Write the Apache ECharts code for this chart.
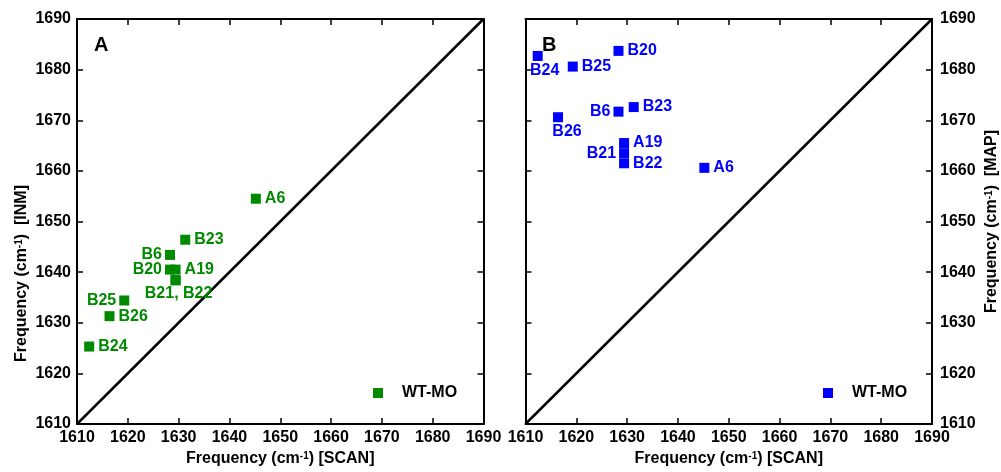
<!DOCTYPE html>
<html>
<head>
<meta charset="utf-8">
<script src="https://cdn.jsdelivr.net/npm/echarts@6/dist/echarts.min.js"></script>
<style>
html,body{margin:0;padding:0;background:#fff;}
#c{width:1001px;height:472px;}
</style>
</head>
<body>
<div id="c"></div>
<script>
// ---- data ----
const names = ['B24','B25','B26','B20','B6','A19','B21','B22','B23','A6'];
const scanFreq = [1612.4,1619.3,1616.4,1628.3,1628.3,1629.4,1629.4,1629.4,1631.3,1645.2];
const inmFreq  = [1625.3,1634.4,1631.3,1640.5,1643.4,1640.5,1638.4,1638.4,1646.4,1654.5];
const mapFreq  = [1682.7,1680.6,1670.6,1683.7,1671.7,1665.5,1663.5,1661.5,1672.6,1660.6];
const diagLine = [[1610,1610],[1690,1690]];
const axisMin = 1610, axisMax = 1690, axisStep = 10;
const legendName = 'WT-MO';

// ---- styles ----
const FONT = "'Liberation Sans', Arial, sans-serif";
const GREEN = '#008a00';
const BLUE = '#0000ff';
const FS = 16;

const labelA = {
  B24:{position:'right'}, B25:{position:'left'}, B26:{position:'right'},
  B20:{position:'left'}, B6:{position:'left'}, A19:{position:'right'},
  B21:{position:'bottom', text:'B21, B22', offset:[3,0], distance:0},
  B22:{show:false}, B23:{position:'right'}, A6:{position:'right'}
};
const labelB = {
  B24:{position:'bottom', offset:[7,0], distance:2}, B25:{position:'right'},
  B26:{position:'bottom', offset:[9,0], distance:1}, B20:{position:'right'},
  B6:{position:'left'}, A19:{position:'right'}, B21:{position:'left'},
  B22:{position:'right'}, B23:{position:'right'}, A6:{position:'right'}
};

function buildData(ys, labels){
  return names.map((n,i)=>{
    const l = labels[n] || {};
    const lab = {
      show: l.show !== false,
      position: l.position || 'right',
      distance: l.distance != null ? l.distance : (l.position === 'left' ? 3 : 4),
      formatter: l.text || n
    };
    if (l.offset) lab.offset = l.offset;
    return {name:n, value:[scanFreq[i], ys[i]], label: lab};
  });
}

const nameRich = {
  sup:{fontSize:10, fontWeight:'bold', fontFamily:FONT, color:'#000', verticalAlign:'top', lineHeight:10}
};
function nameStyle(pad){
  return {fontSize:FS, fontWeight:'bold', fontFamily:FONT, color:'#000', rich:nameRich, padding:pad||0};
}
const lineStyle = {color:'#000', width:2};
const tickStyle = {inside:true, length:6, lineStyle:{color:'#000', width:1.5}};
const labStyle = {fontSize:FS, fontWeight:'bold', fontFamily:FONT, color:'#000', formatter:v=>String(v)};

function xAx(grid, pos, showLabel, name){
  return {
    type:'value', gridIndex:grid, position:pos, min:axisMin, max:axisMax, interval:axisStep,
    axisLine:{show:true, onZero:false, lineStyle:lineStyle},
    axisTick:tickStyle, splitLine:{show:false},
    axisLabel:Object.assign({show:showLabel, margin:6}, labStyle),
    name: name || '', nameLocation:'middle', nameGap:27, nameTextStyle:nameStyle()
  };
}
function yAx(grid, pos, showLabel, name, gap, pad){
  return {
    type:'value', gridIndex:grid, position:pos, min:axisMin, max:axisMax, interval:axisStep,
    axisLine:{show:true, onZero:false, lineStyle:lineStyle},
    axisTick:tickStyle, splitLine:{show:false},
    axisLabel:Object.assign({show:showLabel, margin:pos==='left'?6:8}, labStyle),
    name: name || '', nameLocation:'middle', nameGap:gap||0, nameRotate:90, nameTextStyle:nameStyle(pad)
  };
}

const option = {
  animation:false,
  backgroundColor:'#fff',
  textStyle:{fontFamily:FONT},
  grid:[
    {left:77, right:517.5, top:19, bottom:47.5},
    {left:525.5, right:68, top:19, bottom:47.5}
  ],
  xAxis:[
    xAx(0,'bottom',true,'Frequency (cm{sup|-1}) [SCAN]'),
    xAx(0,'top',false),
    xAx(1,'bottom',true,'Frequency (cm{sup|-1}) [SCAN]'),
    xAx(1,'top',false)
  ],
  yAxis:[
    yAx(0,'left',true,'Frequency (cm{sup|-1})  [INM]',47,[0,104,0,0]),
    yAx(0,'right',false),
    yAx(1,'left',false),
    yAx(1,'right',true,'Frequency (cm{sup|-1})  [MAP]',52)
  ],
  legend:[
    {data:[legendName], left:368, top:380, icon:'rect', itemWidth:10, itemHeight:10,
     selectedMode:false, textStyle:{fontSize:FS, fontWeight:'bold', fontFamily:FONT, color:'#000', padding:[0,0,0,14]}},
    {data:[legendName+' '], left:818, top:380, icon:'rect', itemWidth:10, itemHeight:10,
     selectedMode:false, formatter:()=>legendName,
     textStyle:{fontSize:FS, fontWeight:'bold', fontFamily:FONT, color:'#000', padding:[0,0,0,14]}}
  ],
  graphic:[
    {type:'text', left:94, top:35, style:{text:'A', fontSize:20, fontWeight:'bold', fontFamily:FONT, fill:'#000'}},
    {type:'text', left:542, top:35, style:{text:'B', fontSize:20, fontWeight:'bold', fontFamily:FONT, fill:'#000'}}
  ],
  series:[
    {type:'line', xAxisIndex:0, yAxisIndex:0, data:diagLine, symbol:'none', silent:true,
     lineStyle:{color:'#000', width:2.5}, z:1},
    {type:'line', xAxisIndex:2, yAxisIndex:2, data:diagLine, symbol:'none', silent:true,
     lineStyle:{color:'#000', width:2.5}, z:1},
    {name:legendName, type:'scatter', xAxisIndex:0, yAxisIndex:0, symbol:'rect', symbolSize:10,
     itemStyle:{color:GREEN, opacity:1}, data:buildData(inmFreq, labelA), z:3,
     label:{color:GREEN, fontSize:FS, fontWeight:'bold', fontFamily:FONT}},
    {name:legendName+' ', type:'scatter', xAxisIndex:2, yAxisIndex:2, symbol:'rect', symbolSize:10,
     itemStyle:{color:BLUE, opacity:1}, data:buildData(mapFreq, labelB), z:3,
     label:{color:BLUE, fontSize:FS, fontWeight:'bold', fontFamily:FONT}}
  ]
};

const chart = echarts.init(document.getElementById('c'), null, {renderer:'canvas'});
chart.setOption(option);
</script>
</body>
</html>
